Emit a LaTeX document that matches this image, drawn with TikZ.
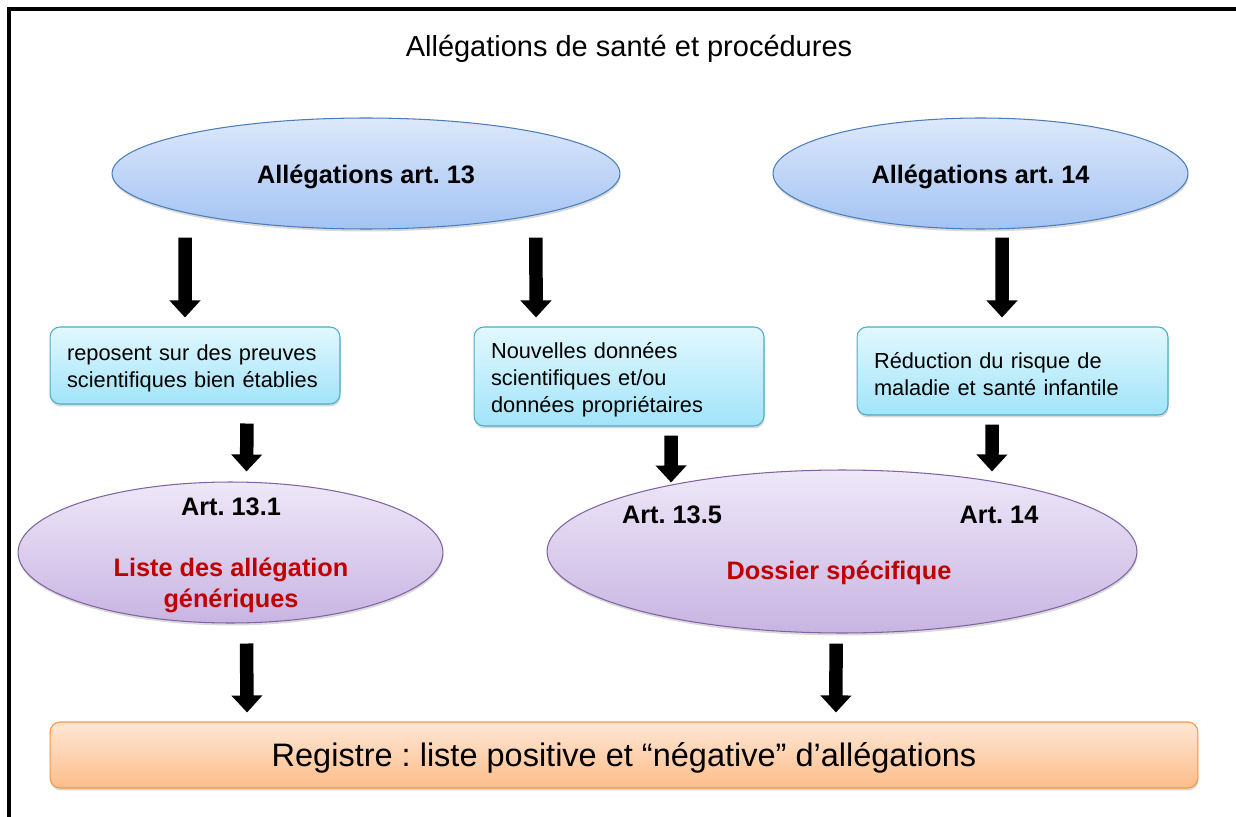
\documentclass[tikz,border=0pt]{standalone}
\usepackage{fontspec}
\setmainfont{Liberation Sans}
\frenchspacing
\usetikzlibrary{shapes.geometric,arrows.meta,shadows}
\definecolor{bluetop}{HTML}{DDE8FB}
\definecolor{bluebot}{HTML}{A3C3F3}
\definecolor{blueline}{HTML}{4A7EBB}
\definecolor{cyantop}{HTML}{E2F8FE}
\definecolor{cyanbot}{HTML}{A1E4F9}
\definecolor{cyanline}{HTML}{4BACC6}
\definecolor{mauvetop}{HTML}{EEE8F8}
\definecolor{mauvebot}{HTML}{C8B4E2}
\definecolor{mauveline}{HTML}{8064A2}
\definecolor{orangetop}{HTML}{FFE7D5}
\definecolor{orangebot}{HTML}{FDBD8A}
\definecolor{orangeline}{HTML}{F79646}
\definecolor{rougetxt}{HTML}{C00000}
\begin{document}
\begin{tikzpicture}[x=0.02cm,y=-0.02cm,
  ombre/.style={drop shadow={shadow xshift=0.3pt,shadow yshift=-1.4pt,opacity=0.3}},
  bulle/.style={ellipse,inner sep=0pt,line width=0.6pt,ombre},
  bulleart/.style={bulle,draw=blueline,top color=bluetop,bottom color=bluebot,
    text height=14pt,text depth=3pt,font=\fontsize{14.4}{17}\selectfont\bfseries},
  bullelist/.style={bulle,draw=mauveline,top color=mauvetop,bottom color=mauvebot},
  boite/.style={rectangle,rounded corners=0.2cm,line width=0.6pt,ombre,
    draw=cyanline,top color=cyantop,bottom color=cyanbot,inner xsep=0.34cm,
    align=left,font=\fontsize{12.4}{15.3}\selectfont,
    execute at begin node={\rule{0pt}{12.5pt}}},
  artlbl/.style={font=\fontsize{14.4}{17}\selectfont\bfseries},
  rougelbl/.style={artlbl,text=rougetxt,align=center,
    font=\fontsize{14.4}{17.6}\selectfont\bfseries},
  bigarrow/.style={line width=0.27cm,-{Triangle[width=0.6cm,length=0.34cm]}}]
\useasboundingbox (0,0) rectangle (1236,817);
\draw[line width=0.07cm] (9,817) -- (9,9) -- (1236,9);
\path node (titre) at (629,49) [font=\fontsize{16.5}{20}\selectfont] {Allégations de santé et procédures}
      node (e13) at (366,173.5) [bulleart,minimum width=10.16cm,minimum height=2.22cm] {Allégations art. 13}
      node (e14) at (980.5,173.5) [bulleart,minimum width=8.3cm,minimum height=2.22cm] {Allégations art. 14}
      node (b1) at (195,365.5) [boite,text width=5.12cm,minimum height=1.54cm] {reposent sur des preuves\\scientifiques bien établies}
      node (b2) at (619,376.5) [boite,text width=5.12cm,minimum height=1.98cm] {Nouvelles données\\scientifiques et/ou\\données propriétaires}
      node (b3) at (1012.5,371) [boite,text width=5.54cm,minimum height=1.76cm] {Réduction du risque de\\maladie et santé infantile}
      node (e131) at (230.5,552.5) [bullelist,minimum width=8.5cm,minimum height=2.82cm] {}
      node (e14x) at (842,551.5) [bullelist,minimum width=11.8cm,minimum height=3.26cm] {}
      node (a131) at (231,507) [artlbl] {Art. 13.1}
      node (liste) at (231,585.5) [rougelbl] {Liste des allégation\\génériques}
      node (a135) at (672,515) [artlbl] {Art. 13.5}
      node (a14) at (999,515) [artlbl] {Art. 14}
      node (dossier) at (839,573) [rougelbl] {Dossier spécifique}
      node (reg) at (624,755) [rectangle,rounded corners=0.2cm,line width=0.6pt,ombre,
        draw=orangeline,top color=orangetop,bottom color=orangebot,
        minimum width=22.96cm,minimum height=1.32cm,text height=17pt,text depth=4pt,
        font=\fontsize{18.5}{22}\selectfont] {Registre : liste positive et “négative” d’allégations}
;
% fleches
\draw[bigarrow] ([xshift=-3.62cm,yshift=-0.16cm]e13.south) -- ([xshift=-0.2cm,yshift=0.18cm]b1.north);
\draw[bigarrow] ([xshift=3.4cm,yshift=-0.16cm]e13.south) -- ([xshift=-1.66cm,yshift=0.18cm]b2.north);
\draw[bigarrow] ([xshift=0.43cm,yshift=-0.16cm]e14.south) -- ([xshift=-0.21cm,yshift=0.18cm]b3.north);
\draw[bigarrow] ([xshift=1.04cm,yshift=-0.38cm]b1.south) -- ([xshift=0.32cm,yshift=0.2cm]e131.north);
\draw[bigarrow] ([xshift=1.04cm,yshift=-0.18cm]b2.south) -- ([xshift=-3.42cm,yshift=-0.26cm]e14x.north);
\draw[bigarrow] ([xshift=-0.41cm,yshift=-0.18cm]b3.south) -- ([xshift=3cm,yshift=-0.04cm]e14x.north);
\draw[bigarrow] ([xshift=0.32cm,yshift=-0.4cm]e131.south) -- ([xshift=-7.54cm,yshift=0.18cm]reg.north);
\draw[bigarrow] ([xshift=-0.12cm,yshift=-0.2cm]e14x.south) -- ([xshift=4.24cm,yshift=0.18cm]reg.north);
\end{tikzpicture}
\end{document}
